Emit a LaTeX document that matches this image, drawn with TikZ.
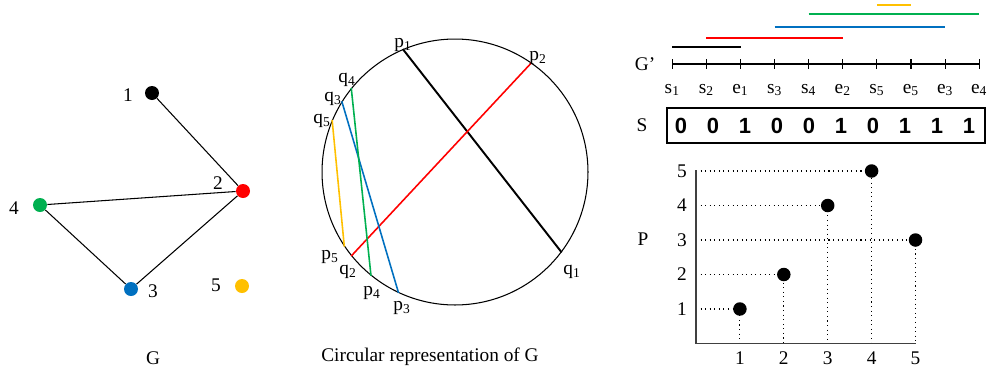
\documentclass[tikz,border=0pt]{standalone}
\usepackage{fontspec}
\setmainfont{Liberation Serif}
\newfontfamily\bitfont{Liberation Sans}
\usetikzlibrary{calc}
\definecolor{gred}{RGB}{255,0,0}
\definecolor{ggreen}{RGB}{0,176,80}
\definecolor{gblue}{RGB}{0,112,192}
\definecolor{gyellow}{RGB}{255,192,0}
\newcommand{\idx}[2]{#1\textsubscript{#2}}
\tikzset{
  lbl/.style={inner sep=0pt,font=\fontsize{11}{13}\selectfont},
  vtx/.style={circle,minimum size=0.28cm,inner sep=0pt},
  dot/.style={circle,fill=black,minimum size=0.27cm,inner sep=0pt},
  edge/.style={line width=0.6pt},
  chord/.style={line width=0.9pt},
  ivl/.style={line width=1.1pt},
  guide/.style={dotted,line width=0.6pt},
  axis/.style={line width=0.8pt,black!75},
  bit/.style={inner sep=0pt,font=\bitfont\bfseries\fontsize{12.5}{14}\selectfont}
}
\begin{document}
\begin{tikzpicture}[x=0.02cm,y=-0.02cm]
\useasboundingbox (0,0) rectangle (990,376);
% graph G
\node[vtx,fill=black] (v1) at (152,93) {};
\node[vtx,fill=gred] (v2) at (243,191) {};
\node[vtx,fill=gblue] (v3) at (131,289) {};
\node[vtx,fill=ggreen] (v4) at (40,205) {};
\node[vtx,fill=gyellow] (v5) at (242,286) {};
\node[lbl] (l1) at (128,95) {1};
\node[lbl] (l2) at (218,183) {2};
\node[lbl] (l3) at (153,291) {3};
\node[lbl] (l4) at (14,208) {4};
\node[lbl] (l5) at (216,285) {5};
\draw[edge] (v1)--(v2)--(v3)--(v4)--(v2);
\node[lbl] (capG) at (153,358) {G};
% circular representation
\node[draw,circle,minimum size=5.32cm,inner sep=0pt,line width=0.6pt] (rim) at (455,172) {};
\coordinate (p1) at (rim.113.7);
\coordinate (q1) at (rim.-37.5);
\coordinate (p2) at (rim.55.2);
\coordinate (q2) at (rim.219.1);
\coordinate (p3) at (rim.245);
\coordinate (q3) at (rim.148.8);
\coordinate (p4) at (rim.231.2);
\coordinate (q4) at (rim.141.9);
\coordinate (p5) at (rim.214.2);
\coordinate (q5) at (rim.157.7);
\draw[chord,black,line width=1.1pt] (p1)--(q1);
\draw[chord,gred] (p2)--(q2);
\draw[chord,gblue] (p3)--(q3);
\draw[chord,ggreen] (p4)--(q4);
\draw[chord,gyellow] (p5)--(q5);
\node[lbl] (lp1) at (403,45) {\idx{p}{1}};
\node[lbl] (lp2) at (538,58) {\idx{p}{2}};
\node[lbl] (lq1) at (572,272) {\idx{q}{1}};
\node[lbl] (lq2) at (348,272) {\idx{q}{2}};
\node[lbl] (lp3) at (402,308) {\idx{p}{3}};
\node[lbl] (lq3) at (333,99) {\idx{q}{3}};
\node[lbl] (lp4) at (372,293) {\idx{p}{4}};
\node[lbl] (lq4) at (347,80) {\idx{q}{4}};
\node[lbl] (lp5) at (330,257) {\idx{p}{5}};
\node[lbl] (lq5) at (322,121) {\idx{q}{5}};
\node[lbl] (capC) at (430,357) {Circular representation of G};
% intervals G'
\node[lbl] (lG) at (645,64) {G’};
\foreach \i/\c/\k in {0/s/1,1/s/2,2/e/1,3/s/3,4/s/4,5/e/2,6/s/5,7/e/5,8/e/3,9/e/4} {
  \coordinate (t\i) at (672.3+34.1*\i,64);
  \draw[edge] (t\i) ++(0,-5) -- ++(0,10);
  \node[lbl,anchor=base] (tl\i) at (672.3+34.1*\i,93) {\idx{\c}{\k}};
}
\draw[edge] (t0) -- (t9);
\draw[ivl,black] ($(t0)+(0,-17)$) -- ($(t2)+(0,-17)$);
\draw[ivl,gred] ($(t1)+(0,-26)$) -- ($(t5)+(0,-26)$);
\draw[ivl,gblue] ($(t3)+(0,-37)$) -- ($(t8)+(0,-37)$);
\draw[ivl,ggreen] ($(t4)+(0,-50)$) -- ($(t9)+(0,-50)$);
\draw[ivl,gyellow] ($(t6)+(0,-59)$) -- ($(t7)+(0,-59)$);
% sequence S
\node[lbl] (lS) at (642,125) {S};
\draw[line width=0.9pt] (667,108) rectangle (985,143);
\foreach \i/\b in {0/0,1/0,2/1,3/0,4/0,5/1,6/0,7/1,8/1,9/1}
  \node[bit] (b\i) at (681+32*\i,126) {\b};
% permutation P
\node[lbl] (lP) at (643,239) {P};
\coordinate (o) at (696,343.5);
\coordinate (ytop) at (696,170);
\coordinate (xend) at (916,343.5);
\foreach \i in {1,...,5} {
  \coordinate (x\i) at (696+43.9*\i,343.5);
  \coordinate (y\i) at (696,343.5-34.5*\i);
  \node[lbl] (xl\i) at (696+43.9*\i,358) {\i};
  \node[lbl] (yl\i) at (682,343.5-34.5*\i) {\i};
}
\foreach \i/\j in {1/1,2/2,3/4,4/5,5/3} {
  \coordinate (d\i) at (x\i |- y\j);
  \draw[guide] (y\j) -- (d\i) -- (x\i);
}
\draw[axis] (ytop) -- (o) -- (xend);
\foreach \i in {1,...,5}
  \node[dot] (n\i) at (d\i) {};
\end{tikzpicture}
\end{document}
